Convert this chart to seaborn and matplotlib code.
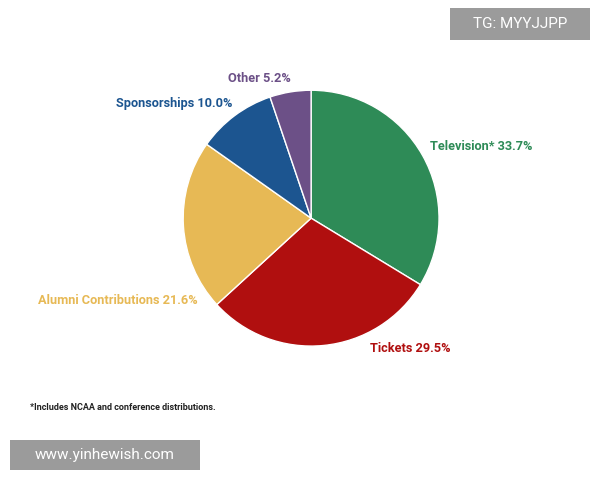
import matplotlib
matplotlib.use("Agg")
import matplotlib.pyplot as plt
import seaborn as sns
from matplotlib.patches import Rectangle

sns.set_theme(style="white")
plt.rcParams['font.family'] = ['Roboto', 'DejaVu Sans']

categories = ["Television*", "Tickets", "Alumni Contributions", "Sponsorships", "Other"]
values = [33.7, 29.5, 21.6, 10.0, 5.2]
colors = ["#2e8b57", "#b00f0f", "#e7b955", "#1c5590", "#6c5087"]

fig = plt.figure(figsize=(6, 4.8), dpi=100)
ax = fig.add_axes([0.305, 0.279, 0.427, 0.533])
ax.pie(values, colors=colors, startangle=90, counterclock=False,
       wedgeprops=dict(edgecolor="white", linewidth=1))
ax.set_xlim(-1.0, 1.0)
ax.set_ylim(-1.0, 1.0)
ax.set_aspect("equal")
ax.axis("off")

def px(x, y):
    return x / 600, 1 - y / 480

label_pos = [(430, 146, "left"), (370, 349, "left"), (198, 300, "right"),
             (232, 103, "right"), (291, 78, "right")]
for (x, y, ha), c, v, col in zip(label_pos, categories, values, colors):
    fig.text(*px(x, y), f"{c} {v:.1f}%", color=col, ha=ha, va="center",
             fontsize=9.2, fontweight="bold")

fig.text(*px(30, 408), "*Includes NCAA and conference distributions.",
         fontsize=6.5, fontweight="bold", color="#222222", va="center")

fig.patches.append(Rectangle(px(450, 40), 140/600, 32/480, transform=fig.transFigure,
                             facecolor="#8a8a8a", alpha=0.85, edgecolor="none"))
fig.text(*px(520, 24), "TG: MYYJJPP", color="white", fontsize=11, ha="center", va="center")
fig.patches.append(Rectangle(px(10, 470), 190/600, 30/480, transform=fig.transFigure,
                             facecolor="#8a8a8a", alpha=0.85, edgecolor="none"))
fig.text(*px(105, 455), "www.yinhewish.com", color="white", fontsize=11, ha="center", va="center")

fig.savefig("out.png", dpi=100, facecolor="white")
